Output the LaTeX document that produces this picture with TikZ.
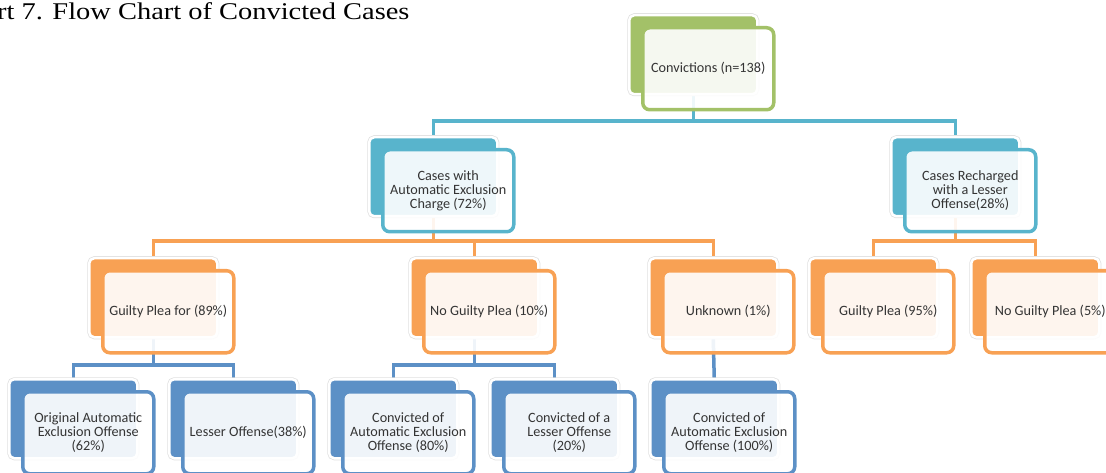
\documentclass[tikz,border=0pt]{standalone}
\usepackage{fontspec}
\setmainfont{Liberation Serif}
\newfontfamily\boxfont{Carlito}
\usetikzlibrary{calc}
\definecolor{cgreen}{RGB}{163,193,104}
\definecolor{caqua}{RGB}{88,180,204}
\definecolor{corange}{RGB}{248,161,84}
\definecolor{cblue}{RGB}{92,144,198}
\definecolor{textgray}{RGB}{52,52,52}
\pgfdeclarelayer{bg}
\pgfsetlayers{bg,main}
\tikzset{
  backbox/.style={rectangle, rounded corners=5pt, fill=#1, draw=white, line width=2.5pt,
    preaction={draw=black!12, line width=4pt, rounded corners=5pt},
    minimum width=128pt, minimum height=79pt, anchor=north west, inner sep=0pt},
  frontbox/.style={rectangle, rounded corners=7pt, draw=#1, line width=3.5pt,
    fill=white, fill opacity=0.9, text opacity=1, draw opacity=1,
    minimum width=131pt, minimum height=82pt, anchor=north west, inner sep=0pt,
    align=center, font=\boxfont\fontsize{14.2pt}{14pt}\selectfont, text=textgray},
  link/.style={draw=#1, line width=3.5pt},
}
\newcommand\mkpair[5]{%
  \node[backbox=#4] (#1B) at (#2,#3) {};
  \node[frontbox=#4] (#1) at ({#2+13},{#3+12}) {#5};}
\begin{document}
\begin{tikzpicture}[x=1pt,y=-1pt]
\useasboundingbox (0,0) rectangle (1106,473);
\node[anchor=base west, inner sep=0pt, font=\fontsize{24pt}{26pt}\selectfont] (title) at (-3,20)
  {\scalebox{1.185}[1]{rt 7. Flow Chart of Convicted Cases}};
% nodes
\mkpair{top}{628}{14}{cgreen}{Convictions (n=138)}
\mkpair{La}{368}{136}{caqua}{Cases with\\Automatic Exclusion\\Charge (72\%)}
\mkpair{Lb}{890}{136}{caqua}{Cases Recharged\\with a Lesser\\Offense(28\%)}
\mkpair{Ma}{88}{257}{corange}{Guilty Plea for (89\%)}
\mkpair{Mb}{409}{257}{corange}{No Guilty Plea (10\%)}
\mkpair{Mc}{648}{257}{corange}{Unknown (1\%)}
\mkpair{Md}{808}{257}{corange}{Guilty Plea (95\%)}
\mkpair{Me}{970}{257}{corange}{No Guilty Plea (5\%)}
\mkpair{Na}{8}{378}{cblue}{Original Automatic\\Exclusion Offense\\(62\%)}
\mkpair{Nb}{168}{378}{cblue}{Lesser Offense(38\%)}
\mkpair{Nc}{328}{378}{cblue}{Convicted of\\Automatic Exclusion\\Offense (80\%)}
\mkpair{Nd}{489}{378}{cblue}{Convicted of a\\Lesser Offense\\(20\%)}
\mkpair{Ne}{649}{378}{cblue}{Convicted of\\Automatic Exclusion\\Offense (100\%)}
% connectors
\coordinate (bus1) at (0,121);
\coordinate (bus2) at (0,241);
\coordinate (bus3) at (0,365);
\begin{pgfonlayer}{bg}
\draw[link=caqua] (topB.south) -- (topB.south |- bus1) -| (LaB.north);
\draw[link=caqua] (topB.south |- bus1) -| (LbB.north);
\draw[link=corange] (LaB.south) -- (LaB.south |- bus2) -| (MaB.north);
\draw[link=corange] (LaB.south |- bus2) -| (MbB.north);
\draw[link=corange] (LaB.south |- bus2) -| (McB.north);
\draw[link=corange] (LbB.south) -- (LbB.south |- bus2) -| (MdB.north);
\draw[link=corange] (LbB.south |- bus2) -| (MeB.north);
\draw[link=cblue] (MaB.south) -- (MaB.south |- bus3) -| (NaB.north);
\draw[link=cblue] (MaB.south |- bus3) -| (NbB.north);
\draw[link=cblue] (MbB.south) -- (MbB.south |- bus3) -| (NcB.north);
\draw[link=cblue] (MbB.south |- bus3) -| (NdB.north);
\draw[link=cblue] (McB.south) -- (NeB.north);
\end{pgfonlayer}
\end{tikzpicture}
\end{document}
